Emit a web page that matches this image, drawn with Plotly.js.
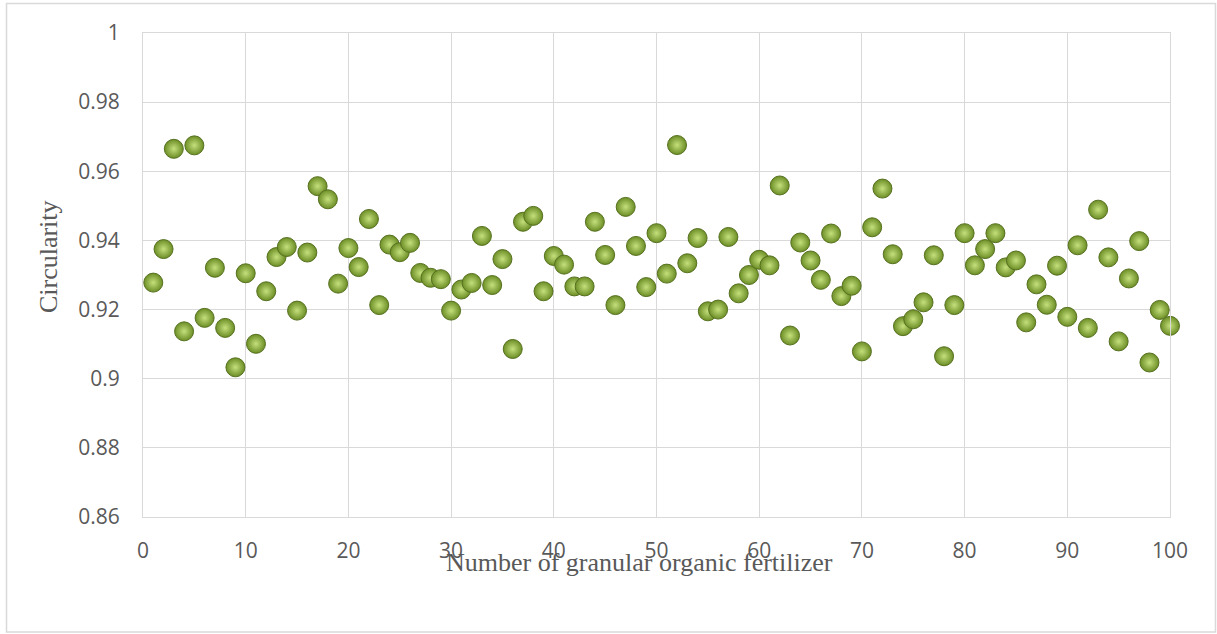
<!DOCTYPE html>
<html>
<head>
<meta charset="utf-8">
<script src="https://cdn.plot.ly/plotly-3.0.1.min.js"></script>
<style>
  html, body { margin: 0; padding: 0; background: #ffffff; }
  #chart { width: 1217px; height: 634px; }
</style>
</head>
<body>
<div id="chart"></div>
<script>
const granuleNumber = [
  1, 2, 3, 4, 5, 6, 7, 8, 9, 10,
  11, 12, 13, 14, 15, 16, 17, 18, 19, 20,
  21, 22, 23, 24, 25, 26, 27, 28, 29, 30,
  31, 32, 33, 34, 35, 36, 37, 38, 39, 40,
  41, 42, 43, 44, 45, 46, 47, 48, 49, 50,
  51, 52, 53, 54, 55, 56, 57, 58, 59, 60,
  61, 62, 63, 64, 65, 66, 67, 68, 69, 70,
  71, 72, 73, 74, 75, 76, 77, 78, 79, 80,
  81, 82, 83, 84, 85, 86, 87, 88, 89, 90,
  91, 92, 93, 94, 95, 96, 97, 98, 99, 100
];

const circularity = [
  0.9278, 0.9375, 0.9665, 0.9137, 0.9675, 0.9176, 0.9321, 0.9147, 0.9033, 0.9305,
  0.9101, 0.9253, 0.9352, 0.9381, 0.9197, 0.9365, 0.9557, 0.9519, 0.9275, 0.9378,
  0.9323, 0.9462, 0.9213, 0.9388, 0.9366, 0.9393, 0.9306, 0.9292, 0.9288, 0.9197,
  0.9258, 0.9277, 0.9413, 0.9271, 0.9346, 0.9086, 0.9454, 0.9471, 0.9253, 0.9355,
  0.9330, 0.9267, 0.9267, 0.9454, 0.9358, 0.9213, 0.9497, 0.9384, 0.9265, 0.9421,
  0.9304, 0.9676, 0.9334, 0.9407, 0.9195, 0.9200, 0.9410, 0.9247, 0.9300, 0.9344,
  0.9328, 0.9559, 0.9125, 0.9394, 0.9342, 0.9286, 0.9420, 0.9239, 0.9269, 0.9079,
  0.9438, 0.9550, 0.9360, 0.9152, 0.9172, 0.9221, 0.9357, 0.9065, 0.9213, 0.9421,
  0.9328, 0.9375, 0.9421, 0.9322, 0.9342, 0.9163, 0.9273, 0.9214, 0.9327, 0.9179,
  0.9386, 0.9147, 0.9489, 0.9351, 0.9108, 0.9290, 0.9398, 0.9047, 0.9199, 0.9153
];

const xTitle = 'Number of granular organic fertilizer';
const yTitle = 'Circularity';

const gridColor = '#d9d9d9';
const textColor = '#595959';

const trace = {
  type: 'scatter',
  mode: 'markers',
  x: granuleNumber,
  y: circularity,
  cliponaxis: false,
  marker: {
    size: 19,
    color: '#6c8d26',
    gradient: { type: 'radial', color: '#c4e07c' },
    line: { color: '#56711f', width: 1 }
  },
  hoverinfo: 'x+y'
};

const layout = {
  width: 1217,
  height: 634,
  margin: { l: 143, r: 47, t: 33, b: 117 },
  paper_bgcolor: '#ffffff',
  plot_bgcolor: '#ffffff',
  showlegend: false,
  xaxis: {
    range: [0, 100],
    dtick: 10,
    tick0: 0,
    showgrid: true,
    gridcolor: gridColor,
    gridwidth: 1,
    zeroline: false,
    showline: true,
    linecolor: gridColor,
    linewidth: 1,
    mirror: true,
    ticks: '',
    ticklabelstandoff: 15,
    tickfont: { family: 'Open Sans, sans-serif', size: 21, color: textColor }
  },
  yaxis: {
    range: [0.86, 1],
    dtick: 0.02,
    tick0: 0.86,
    showgrid: true,
    gridcolor: gridColor,
    gridwidth: 1,
    zeroline: false,
    showline: true,
    linecolor: gridColor,
    linewidth: 1,
    mirror: true,
    ticks: '',
    ticklabelstandoff: 18,
    tickfont: { family: 'Open Sans, sans-serif', size: 21, color: textColor }
  },
  annotations: [
    {
      text: xTitle,
      xref: 'paper', yref: 'paper',
      x: 0.483, y: -0.095,
      xanchor: 'center', yanchor: 'middle',
      showarrow: false,
      font: { family: 'Liberation Serif, Times New Roman, serif', size: 26, color: textColor }
    },
    {
      text: yTitle,
      xref: 'paper', yref: 'paper',
      x: -0.0925, y: 0.537,
      xanchor: 'center', yanchor: 'middle',
      textangle: -90,
      showarrow: false,
      font: { family: 'Liberation Serif, Times New Roman, serif', size: 26, color: textColor }
    }
  ],
  shapes: [
    {
      type: 'rect',
      xref: 'paper', yref: 'paper',
      x0: -0.1329, x1: 1.0443,
      y0: -0.2376, y1: 1.0610,
      line: { color: gridColor, width: 1.5 },
      fillcolor: 'rgba(0,0,0,0)',
      layer: 'below'
    }
  ]
};

Plotly.newPlot('chart', [trace], layout, { displayModeBar: false, staticPlot: true });
</script>
</body>
</html>
